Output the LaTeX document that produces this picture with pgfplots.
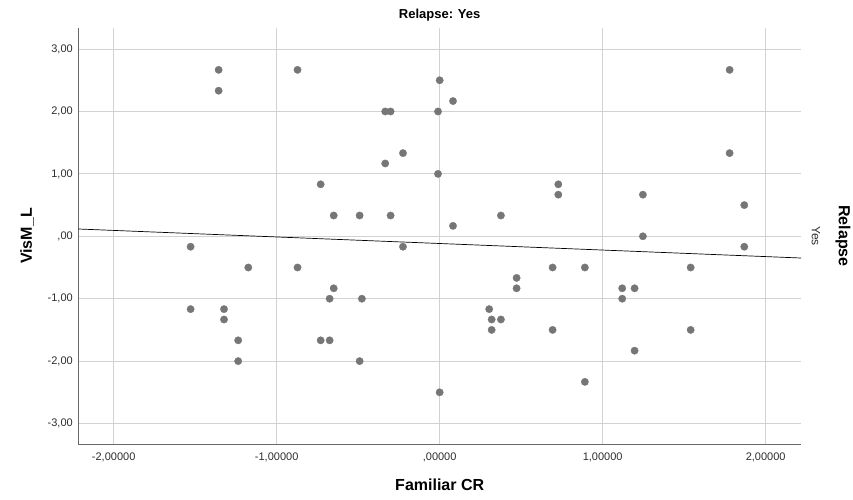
\documentclass[border=0pt]{standalone}
\usepackage{pgfplots}
\pgfplotsset{compat=1.18}
\usepackage{fontspec}
\setmainfont{Liberation Sans}
\definecolor{markgray}{RGB}{118,118,118}
\definecolor{gridgray}{RGB}{210,210,210}
\definecolor{axgray}{RGB}{105,105,105}
\definecolor{ticktext}{RGB}{45,45,45}
\pgfplotstableread{
x y
-1.356 2.667
-1.356 2.333
-0.872 2.667
-1.528 -0.167
-1.528 -1.167
-1.174 -0.5
-1.323 -1.167
-1.323 -1.333
-1.236 -1.667
-1.236 -2.0
-0.872 -0.5
0.000 2.5
0.082 2.167
-0.334 2.0
-0.301 2.0
-0.010 2.0
-0.225 1.333
-0.334 1.167
-0.010 1.0
-0.730 0.833
0.728 0.833
0.728 0.667
-0.650 0.333
-0.491 0.333
-0.301 0.333
0.376 0.333
0.082 0.167
-0.225 -0.167
1.779 2.667
1.779 1.333
1.247 0.667
1.869 0.5
1.247 0.0
1.869 -0.167
-0.650 -0.833
-0.675 -1.0
-0.477 -1.0
-0.730 -1.667
-0.675 -1.667
-0.491 -2.0
0.000 -2.5
0.304 -1.167
0.319 -1.333
0.376 -1.333
0.319 -1.5
0.472 -0.667
0.472 -0.833
0.693 -0.5
0.693 -1.5
0.891 -0.5
1.540 -0.5
1.120 -0.833
1.196 -0.833
1.120 -1.0
1.540 -1.5
1.196 -1.833
0.891 -2.333
}\pts
\pgfplotstableread{
x y
-2.217 0.117
2.217 -0.348
}\fit
\begin{document}
\begin{tikzpicture}
\begin{axis}[
  at={(78.3bp,55.7bp)}, anchor=south west,
  scale only axis, width=722.7bp, height=416bp,
  xmin=-2.217, xmax=2.217, ymin=-3.333, ymax=3.333,
  axis x line*=bottom, axis y line*=left,
  axis line style={-, draw=axgray, line width=0.8pt},
  xtick={-2,-1,0,1,2}, ytick={-3,-2,-1,0,1,2,3},
  xticklabels={-2{,}00000,-1{,}00000,{{,}00000},1{,}00000,2{,}00000},
  yticklabels={-3{,}00,-2{,}00,-1{,}00,{{,}00},1{,}00,2{,}00,3{,}00},
  major tick length=0pt,
  tick label style={font=\fontsize{11bp}{13bp}\selectfont, text=ticktext},
  xticklabel style={yshift=-5bp},
  yticklabel style={xshift=-2bp},
  grid=major,
  major grid style={draw=gridgray, line width=0.8pt},
  clip=false,
]
\addplot[only marks, color=markgray, mark=*, mark size=3.7bp, mark options={fill=markgray, draw=markgray, line width=0.3pt}] table[x=x,y=y] {\pts};
\addplot[black, line width=0.7pt, no marks] table[x=x,y=y] {\fit};
\end{axis}
\node[font=\bfseries\fontsize{13bp}{15bp}\selectfont] at (439.7bp,485bp) {Relapse: Yes};
\node[font=\bfseries\fontsize{16bp}{18bp}\selectfont] at (439.7bp,15bp) {Familiar CR};
\node[font=\bfseries\fontsize{16bp}{18bp}\selectfont, rotate=90] at (27bp,264bp) {VisM\_L};
\node[font=\bfseries\fontsize{16bp}{18bp}\selectfont, rotate=-90] at (843bp,264bp) {Relapse};
\node[font=\fontsize{12bp}{14bp}\selectfont, text=ticktext, rotate=-90] at (816bp,264bp) {Yes};
\pgfresetboundingbox
\path[use as bounding box] (0,0) rectangle (853bp,500bp);
\end{tikzpicture}
\end{document}
